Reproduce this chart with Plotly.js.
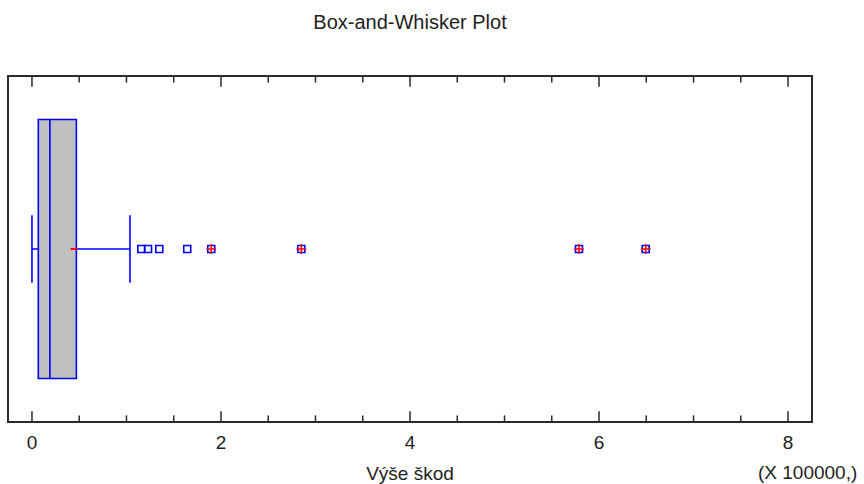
<!DOCTYPE html>
<html>
<head>
<meta charset="utf-8">
<script src="https://cdn.plot.ly/plotly-3.0.1.min.js"></script>
<style>
  html, body { margin: 0; padding: 0; background: #ffffff; }
  #chart { width: 864px; height: 484px; }
</style>
</head>
<body>
<div id="chart"></div>
<script>
// Claim amounts (Kč); the axis shows them in units of 100 000
const scaleUnit = 100000;

// Five-number summary and mean
const q1 = [6700];
const median = [19000];
const q3 = [47000];
const lowerWhisker = [0];
const upperWhisker = [103700];
const mean = [44500];

// Outside points (beyond the whiskers)
const outsidePoints = [115700, 122800, 134700, 164300];
// Far outside points (beyond 3 IQR), marked with a plus
const farOutsidePoints = [189700, 285000, 578800, 649400];

const tickValues = [0, 2, 4, 6, 8];
const tickLabels = ['0', '2', '4', '6', '8'];
const minorTickValues = [0.5, 1, 1.5, 2.5, 3, 3.5, 4.5, 5, 5.5, 6.5, 7, 7.5];

const yRange = [-0.5, 0.5];
const toAxis = v => v / scaleUnit;
const blue = '#0000ff';
const red = '#ff0000';
const axisColor = '#2a2a2a';
const textColor = '#1e1e1e';
const font = 'Liberation Sans, Arial, sans-serif';

const boxTrace = {
  type: 'box',
  orientation: 'h',
  y: [0],
  q1: q1.map(toAxis),
  median: median.map(toAxis),
  q3: q3.map(toAxis),
  lowerfence: lowerWhisker.map(toAxis),
  upperfence: upperWhisker.map(toAxis),
  width: 0.753,
  whiskerwidth: 0.26,
  fillcolor: '#c0c0c0',
  line: { color: blue, width: 1.6 },
  boxpoints: false,
  hoverinfo: 'skip',
  showlegend: false
};

const meanTrace = {
  type: 'scatter',
  mode: 'markers',
  x: mean.map(toAxis),
  y: mean.map(() => 0),
  marker: { symbol: 'line-ew', size: 5, line: { color: red, width: 2 } },
  hoverinfo: 'skip',
  showlegend: false
};

const allOutside = outsidePoints.concat(farOutsidePoints);
const outsideTrace = {
  type: 'scatter',
  mode: 'markers',
  x: allOutside.map(toAxis),
  y: allOutside.map(() => 0),
  marker: { symbol: 'square-open', size: 7, color: blue, line: { color: blue, width: 1.6 } },
  hoverinfo: 'skip',
  showlegend: false
};

const farTrace = {
  type: 'scatter',
  mode: 'markers',
  x: farOutsidePoints.map(toAxis),
  y: farOutsidePoints.map(() => 0),
  marker: { symbol: 'cross-thin-open', size: 7, color: red, line: { color: red, width: 1.5 } },
  hoverinfo: 'skip',
  showlegend: false
};

// Inside tick marks on the bottom and top frame edges; the half of each
// vertical marker outside the plot area is clipped away.
function tickTrace(values, size) {
  const xs = values.concat(values);
  const ys = values.map(() => yRange[0]).concat(values.map(() => yRange[1]));
  return {
    type: 'scatter',
    mode: 'markers',
    x: xs,
    y: ys,
    cliponaxis: true,
    marker: { symbol: 'line-ns', size: size, line: { color: axisColor, width: 1.5 } },
    hoverinfo: 'skip',
    showlegend: false
  };
}
const majorTicks = tickTrace(tickValues, 14);
const minorTicks = tickTrace(minorTickValues, 8);

const layout = {
  width: 864,
  height: 484,
  margin: { l: 9, r: 53, t: 77, b: 63 },
  paper_bgcolor: '#ffffff',
  plot_bgcolor: '#ffffff',
  font: { family: font, color: textColor },
  title: {
    text: 'Box-and-Whisker Plot',
    font: { family: font, size: 20, color: textColor },
    xref: 'paper', x: 0.5, xanchor: 'center',
    yref: 'container', y: 1 - 22 / 484, yanchor: 'middle'
  },
  xaxis: {
    range: [-0.243, 8.243],
    tickmode: 'array',
    tickvals: tickValues,
    ticktext: tickLabels,
    ticks: '',
    ticklabelstandoff: 4,
    showline: true,
    linecolor: axisColor,
    linewidth: 1.6,
    mirror: true,
    showgrid: false,
    zeroline: false,
    tickfont: { family: font, size: 19, color: textColor },
    title: { text: 'Výše škod', font: { family: font, size: 19, color: textColor }, standoff: 16 },
    automargin: false
  },
  yaxis: {
    range: yRange,
    showticklabels: false,
    ticks: '',
    showline: true,
    linecolor: axisColor,
    linewidth: 1.6,
    mirror: true,
    showgrid: false,
    zeroline: false,
    automargin: false
  },
  annotations: [{
    text: '(X 100000,)',
    xref: 'paper', yref: 'paper',
    x: (859 - 9) / 802, y: (421 - 472) / 344,
    xanchor: 'right', yanchor: 'middle',
    showarrow: false,
    font: { family: font, size: 19, color: textColor }
  }]
};

Plotly.newPlot('chart', [majorTicks, minorTicks, boxTrace, meanTrace, outsideTrace, farTrace], layout, { staticPlot: true });
</script>
</body>
</html>
